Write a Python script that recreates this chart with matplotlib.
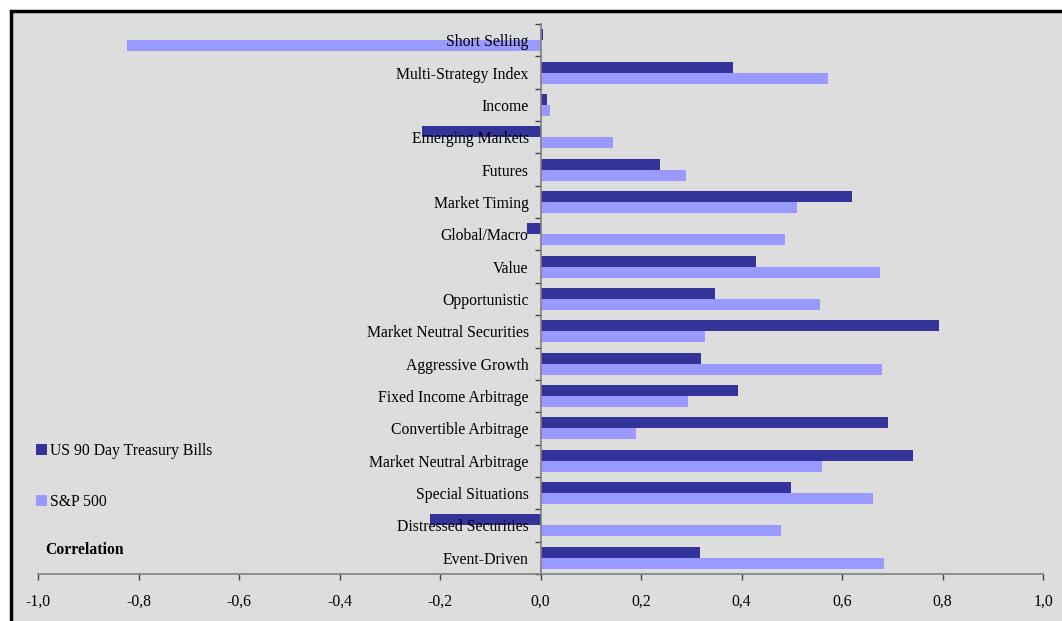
import matplotlib
matplotlib.use("Agg")
import matplotlib.pyplot as plt
from matplotlib.patches import Rectangle
import numpy as np

# Hedge fund strategy correlations, listed bottom to top
categories = [
    "Event-Driven", "Distressed Securities", "Special Situations",
    "Market Neutral Arbitrage", "Convertible Arbitrage", "Fixed Income Arbitrage",
    "Aggressive Growth", "Market Neutral Securities", "Opportunistic", "Value",
    "Global/Macro", "Market Timing", "Futures", "Emerging Markets", "Income",
    "Multi-Strategy Index", "Short Selling",
]
tbills = [0.317, -0.219, 0.498, 0.741, 0.691, 0.394, 0.319, 0.793, 0.347, 0.428,
          -0.026, 0.620, 0.237, -0.235, 0.012, 0.384, 0.004]
sp500 = [0.683, 0.478, 0.661, 0.560, 0.191, 0.293, 0.679, 0.327, 0.556, 0.675,
         0.486, 0.510, 0.289, 0.145, 0.018, 0.572, -0.823]
series_names = ["US 90 Day Treasury Bills", "S&P 500"]
xticks = [-1.0, -0.8, -0.6, -0.4, -0.2, 0.0, 0.2, 0.4, 0.6, 0.8, 1.0]

DARK = "#333399"
LIGHT = "#9999FF"
BG = "#DDDDDD"
FS = 11.3

plt.rcParams["font.family"] = ["Liberation Serif", "DejaVu Serif"]

fig = plt.figure(figsize=(10.62, 6.21), dpi=100)
fig.patch.set_facecolor("white")

# Grey chart area with a heavy black frame
W, H = 1062, 621
frame = Rectangle((11 / W, -0.05), 1.1, 1 - 11 / H + 0.05,
                  transform=fig.transFigure, facecolor=BG,
                  edgecolor="black", linewidth=2.5, zorder=-10)
fig.patches.append(frame)

ax = fig.add_axes([38 / W, 1 - 574 / H, (1043 - 38) / W, (574 - 24) / H])
ax.set_facecolor("none")
ax.set_zorder(5)

y = np.arange(len(categories))
h = 0.34
ax.barh(y + h / 2, tbills, height=h, color=DARK, label=series_names[0], zorder=1)
ax.barh(y - h / 2, sp500, height=h, color=LIGHT, label=series_names[1], zorder=1)

ax.set_xlim(-1.0, 1.0)
ax.set_ylim(-0.5, len(categories) - 0.5)

for s in ["top", "right"]:
    ax.spines[s].set_visible(False)
ax.spines["left"].set_position(("data", 0))
ax.spines["left"].set_color("#808080")
ax.spines["bottom"].set_color("#808080")
ax.spines["left"].set_linewidth(1.2)
ax.spines["bottom"].set_linewidth(1.2)

ax.set_xticks(xticks)
ax.set_xticklabels([f"{v:.1f}".replace(".", ",") for v in xticks], fontsize=FS)
ax.tick_params(axis="x", direction="out", length=4, width=1, color="#404040", pad=10)

# Category ticks sit between bars; labels sit at the bar centres
ax.set_yticks(np.arange(-0.5, len(categories), 1.0))
ax.set_yticklabels([])
ax.tick_params(axis="y", which="major", direction="out", length=4, width=1, color="#404040")
ax.set_yticks(y, minor=True)
ax.set_yticklabels(categories, minor=True, fontsize=FS)
ax.tick_params(axis="y", which="minor", length=0, pad=8.5)

leg = fig.legend(loc="upper left", bbox_to_anchor=(30 / W, 1 - 437 / H),
                 frameon=False, fontsize=FS, handlelength=0.7, handleheight=0.7,
                 handletextpad=0.2, labelspacing=2.2, borderaxespad=0)

fig.text(45 / W, 1 - 550 / H, "Correlation", fontsize=FS, fontweight="bold",
         ha="left", va="center")

fig.savefig("out.png", dpi=100, facecolor=fig.get_facecolor())
